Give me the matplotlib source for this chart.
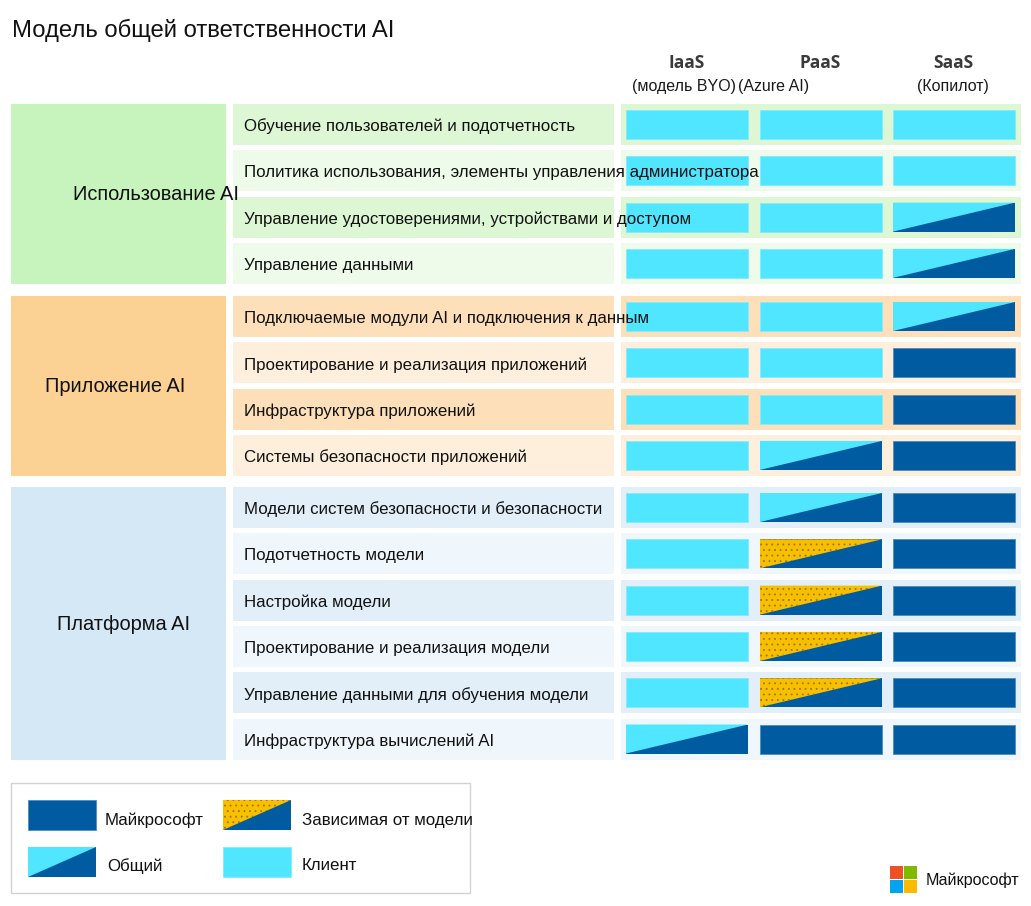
import matplotlib
matplotlib.use("Agg")
import matplotlib.pyplot as plt
from matplotlib.patches import Rectangle, Polygon

plt.rcParams['font.family'] = ['Liberation Sans', 'DejaVu Sans']
plt.rcParams['hatch.linewidth'] = 0.6

# ---------------- data ----------------
title = "Модель общей ответственности AI"
service_models = ["IaaS", "PaaS", "SaaS"]
service_subtitles = ["(модель BYO)", "(Azure AI)", "(Копилот)"]

groups = ["Использование AI", "Приложение AI", "Платформа AI"]
group_sizes = [4, 4, 6]

row_labels = [
    "Обучение пользователей и подотчетность",
    "Политика использования, элементы управления администратора",
    "Управление удостоверениями, устройствами и доступом",
    "Управление данными",
    "Подключаемые модули AI и подключения к данным",
    "Проектирование и реализация приложений",
    "Инфраструктура приложений",
    "Системы безопасности приложений",
    "Модели систем безопасности и безопасности",
    "Подотчетность модели",
    "Настройка модели",
    "Проектирование и реализация модели",
    "Управление данными для обучения модели",
    "Инфраструктура вычислений AI",
]
# C = customer, S = shared, M = Microsoft, D = model dependent
iaas = ["C", "C", "C", "C", "C", "C", "C", "C", "C", "C", "C", "C", "C", "S"]
paas = ["C", "C", "C", "C", "C", "C", "C", "S", "S", "D", "D", "D", "D", "M"]
saas = ["C", "C", "S", "S", "S", "M", "M", "M", "M", "M", "M", "M", "M", "M"]

legend_labels = {"M": "Майкрософт", "D": "Зависимая от модели", "S": "Общий", "C": "Клиент"}
brand = "Майкрософт"

# ---------------- style ----------------
CYAN = "#50e6ff"
BLUE = "#005ba1"
YELLOW = "#f7bf00"
group_colors = ["#c7f3bd", "#fbd294", "#d4e8f5"]
row_dark = ["#ddf7d5", "#fde0b9", "#e2eff9"]
row_light = ["#eefbea", "#fdefdc", "#f0f7fc"]
group_label_x = [73, 45, 57]

fig = plt.figure(figsize=(10.31, 9.06), dpi=100)
ax = fig.add_axes([0, 0, 1, 1])
ax.set_xlim(0, 1031)
ax.set_ylim(906, 0)
ax.axis("off")

ax.text(12, 30, title, fontsize=17.2, va="center", ha="left", color="#111111")

col_centers = [687, 820, 953]
for cx, name in zip(col_centers, service_models):
    ax.text(cx, 63, name, fontsize=12.5, fontweight="bold", ha="center", va="center",
            color="#3a3a3a", family=["Open Sans", "DejaVu Sans"])
sub_x = [684, 774, 953]
for sx, sub in zip(sub_x, service_subtitles):
    ax.text(sx, 87, sub, fontsize=11.5, ha="center", va="center", color="#1a1a1a")

group_tops = [104, 296, 487]
pitch = 46.3
row_h = 41
cell_x = [626, 760, 893]
cell_w = 122
cell_inset = 6


def draw_cell(x, y, w, h, kind, z=3):
    if kind == "C":
        ax.add_patch(Rectangle((x, y), w, h, facecolor=CYAN, edgecolor="#86e9fb", lw=0.6, zorder=z))
    elif kind == "M":
        ax.add_patch(Rectangle((x, y), w, h, facecolor=BLUE, edgecolor="#4d8cc0", lw=0.6, zorder=z))
    elif kind in ("S", "D"):
        top = CYAN if kind == "S" else YELLOW
        ax.add_patch(Rectangle((x, y), w, h, facecolor=BLUE, edgecolor="none", lw=0, zorder=z))
        tri = Polygon([(x, y), (x + w, y), (x, y + h)], closed=True, facecolor=top,
                      edgecolor="none", lw=0, zorder=z + 0.1)
        ax.add_patch(tri)
        if kind == "D":
            ax.add_patch(Polygon([(x, y), (x + w, y), (x, y + h)], closed=True, facecolor="none",
                                 edgecolor="#9a7a00", hatch="...", lw=0, zorder=z + 0.2))


cols = [iaas, paas, saas]
r = 0
for g, (gname, n) in enumerate(zip(groups, group_sizes)):
    top = group_tops[g]
    bottom = top + (n - 1) * pitch + row_h
    ax.add_patch(Rectangle((11, top), 215, bottom - top, facecolor=group_colors[g], edgecolor="none", zorder=1))
    ax.text(group_label_x[g], (top + bottom) / 2 + 1, gname, fontsize=14.4, ha="left", va="center",
            color="#111111", zorder=6)
    for i in range(n):
        y = top + i * pitch
        bg = row_dark[g] if i % 2 == 0 else row_light[g]
        ax.add_patch(Rectangle((233, y), 381, row_h, facecolor=bg, edgecolor="none", zorder=1))
        ax.add_patch(Rectangle((621, y), 400, row_h, facecolor=bg, edgecolor="none", zorder=1))
        ax.text(244, y + row_h / 2 + 2, row_labels[r], fontsize=12.2, ha="left", va="center",
                color="#111111", zorder=6)
        for c in range(3):
            draw_cell(cell_x[c], y + cell_inset, cell_w, row_h - 2 * cell_inset, cols[c][r])
        r += 1

# legend
ax.add_patch(Rectangle((11, 783), 459, 110, facecolor="white", edgecolor="#d2d2d2", lw=1, zorder=1))
legend_items = [("M", 28, 800, 105, 820), ("D", 223, 800, 302, 820),
                ("S", 28, 847, 107, 866), ("C", 223, 847, 302, 866)]
for kind, sx, sy, tx, ty in legend_items:
    draw_cell(sx, sy, 68, 30, kind)
    ax.text(tx, ty, legend_labels[kind], fontsize=12.2, ha="left", va="center", color="#111111")

# brand logo
logo_colors = ["#f25022", "#7fba00", "#00a4ef", "#ffb900"]
lx, ly, s = 890, 866, 13.5
for k, col in enumerate(logo_colors):
    ax.add_patch(Rectangle((lx + (k % 2) * s, ly + (k // 2) * s), s - 0.5, s - 0.5,
                           facecolor=col, edgecolor="none"))
ax.text(926, 880, brand, fontsize=11.6, ha="left", va="center", color="#111111")

fig.savefig("out.png", dpi=100)
